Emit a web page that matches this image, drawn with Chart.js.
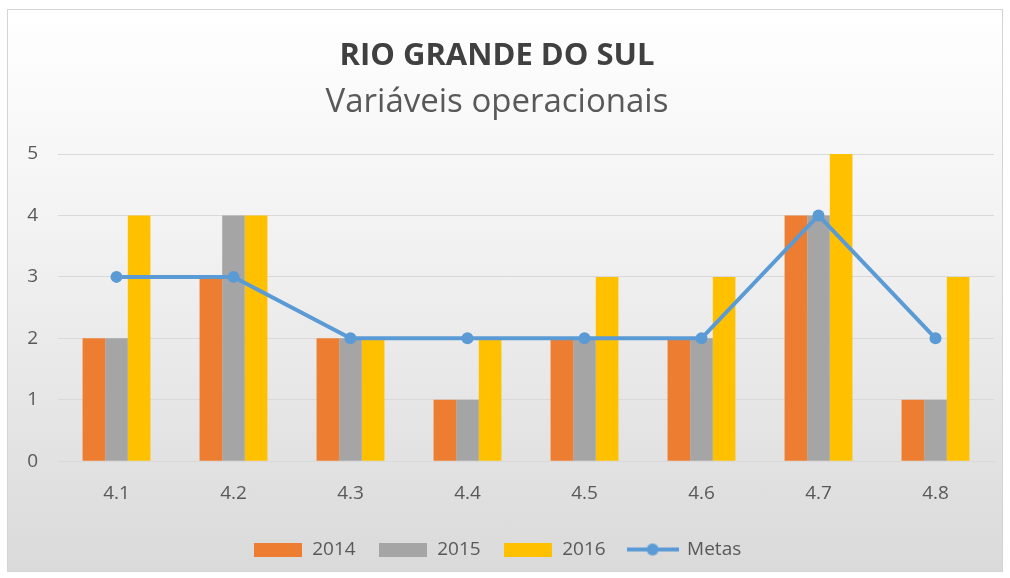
<!DOCTYPE html>
<html>
<head>
<meta charset="utf-8">
<script src="https://cdn.jsdelivr.net/npm/chart.js@4"></script>
<style>
  html, body { margin: 0; padding: 0; width: 1010px; height: 578px; overflow: hidden; background: #ffffff; }
  #frame { position: absolute; left: 7px; top: 9px; width: 996px; height: 563px; box-sizing: border-box;
    border: 1px solid #d4d4d4; background: linear-gradient(to bottom, #ffffff 0%, #f2f2f2 40%, #dadada 100%); }
  #wrap { position: absolute; left: 0; top: 0; width: 1010px; height: 578px; }
</style>
</head>
<body>
<div id="frame"></div>
<div id="wrap"><canvas id="c" width="1010" height="578"></canvas></div>
<script>
const categories = ["4.1", "4.2", "4.3", "4.4", "4.5", "4.6", "4.7", "4.8"];
const values2014 = [2, 3, 2, 1, 2, 2, 4, 1];
const values2015 = [2, 4, 2, 1, 2, 2, 4, 1];
const values2016 = [4, 4, 2, 2, 3, 3, 5, 3];
const metas = [3, 3, 2, 2, 2, 2, 4, 2];
const yTicks = [0, 1, 2, 3, 4, 5];

const font = "'Open Sans', 'DejaVu Sans', sans-serif";

function boxImage(color) {
  const cv = document.createElement('canvas');
  cv.width = 48; cv.height = 14;
  const g = cv.getContext('2d');
  g.fillStyle = color; g.fillRect(0, 0, 48, 14);
  return cv;
}
function lineImage(color) {
  const cv = document.createElement('canvas');
  cv.width = 52; cv.height = 14;
  const g = cv.getContext('2d');
  g.strokeStyle = color; g.lineWidth = 4;
  g.beginPath(); g.moveTo(0, 7); g.lineTo(52, 7); g.stroke();
  g.fillStyle = color; g.beginPath(); g.arc(26, 7, 6, 0, Math.PI * 2); g.fill();
  return cv;
}

new Chart(document.getElementById('c'), {
  data: {
    labels: categories,
    datasets: [
      { type: 'line', label: 'Metas', data: metas, borderColor: '#5b9bd5', backgroundColor: '#5b9bd5',
        borderWidth: 4, pointRadius: 6, pointHoverRadius: 6, pointBorderWidth: 0, tension: 0, order: 0 },
      { type: 'bar', label: '2014', data: values2014, backgroundColor: '#ed7d31', order: 1,
        barPercentage: 1.0, categoryPercentage: 0.58 },
      { type: 'bar', label: '2015', data: values2015, backgroundColor: '#a5a5a5', order: 2,
        barPercentage: 1.0, categoryPercentage: 0.58 },
      { type: 'bar', label: '2016', data: values2016, backgroundColor: '#ffc000', order: 3,
        barPercentage: 1.0, categoryPercentage: 0.58 }
    ]
  },
  options: {
    responsive: false,
    animation: false,
    layout: { padding: { left: 0, right: 16, top: 30, bottom: 9 } },
    plugins: {
      title: { display: true, text: 'RIO GRANDE DO SUL', color: '#404040',
        font: { family: font, size: 31, weight: 'bold' }, padding: { top: 8, bottom: 0 } },
      subtitle: { display: true, text: 'Variáveis operacionais', color: '#595959',
        font: { family: font, size: 33 }, padding: { top: 7.5, bottom: 31.7 } },
      legend: {
        position: 'bottom',
        labels: {
          color: '#595959', font: { family: font, size: 19 }, usePointStyle: true,
          pointStyleWidth: 50, boxHeight: 14, padding: 22,
          generateLabels(chart) {
            const order = [1, 2, 3, 0];
            return order.map(i => {
              const ds = chart.data.datasets[i];
              return { text: ds.label, fillStyle: ds.backgroundColor, strokeStyle: ds.backgroundColor,
                lineWidth: 0, datasetIndex: i, fontColor: '#595959', hidden: false,
                pointStyle: ds.type === 'line' ? lineImage(ds.borderColor) : boxImage(ds.backgroundColor) };
            });
          }
        }
      },
      tooltip: { enabled: false }
    },
    scales: {
      x: {
        grid: { display: false },
        border: { display: true, color: '#d9d9d9' },
        ticks: { color: '#595959', font: { family: font, size: 19 }, padding: 13 }
      },
      y: {
        min: 0, max: 5,
        afterFit(scale) { scale.width = 58; },
        afterBuildTicks(scale) { scale.ticks = yTicks.map(v => ({ value: v })); },
        grid: { color: '#d9d9d9', drawTicks: false },
        border: { display: false },
        ticks: { color: '#595959', font: { family: font, size: 19 }, padding: 20 }
      }
    }
  }
});
</script>
</body>
</html>
